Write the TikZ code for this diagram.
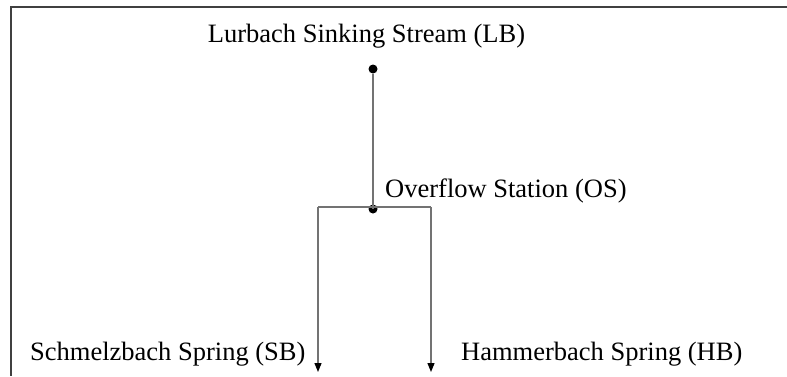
\documentclass[tikz,border=0pt]{standalone}
\usepackage{fontspec}
\setmainfont{Liberation Serif}
\usetikzlibrary{arrows.meta}

\begin{document}
\begin{tikzpicture}[x=1pt, y=-1pt,
		flow/.style={line width=1.2pt, color=black!55},
		frame/.style={line width=2pt, color=black!75},
		dot/.style={circle, fill=black, inner sep=0pt, minimum size=9pt},
		label/.style={inner sep=0pt, font=\fontsize{26.5}{30}\selectfont},
		tip/.style={-{Triangle[length=9pt, width=7pt, color=black]}}]
			%%%%% START %%%%%
			
			\useasboundingbox (0, 0) rectangle (787, 376);
			\draw[frame] (787, 7) -- (11, 7) -- (11, 376);
			
			\node[label, anchor=base] (lbtext) at (366.5, 42) {Lurbach Sinking Stream (LB)};
			\node[label, anchor=base west] (ostext) at (385, 197) {Overflow Station (OS)};
			\node[label, anchor=base west] (sbtext) at (30, 360) {Schmelzbach Spring (SB)};
			\node[label, anchor=base west] (hbtext) at (461, 360) {Hammerbach Spring (HB)};
			
			\node[dot] (lb) at (373, 69) {};
			\node[dot] (os) at (373, 209) {};
			\coordinate (sbtop) at (318, 207);
			\coordinate (hbtop) at (431, 207);
			\coordinate (sb) at (318, 372);
			\coordinate (hb) at (431, 372);
			
			\draw[flow] (lb) -- (os.center);
			\draw[flow] (sbtop) -- (hbtop);
			\draw[flow, tip] (sbtop) -- (sb);
			\draw[flow, tip] (hbtop) -- (hb);
			
			%%%%% END %%%%%
		\end{tikzpicture}
\end{document}
